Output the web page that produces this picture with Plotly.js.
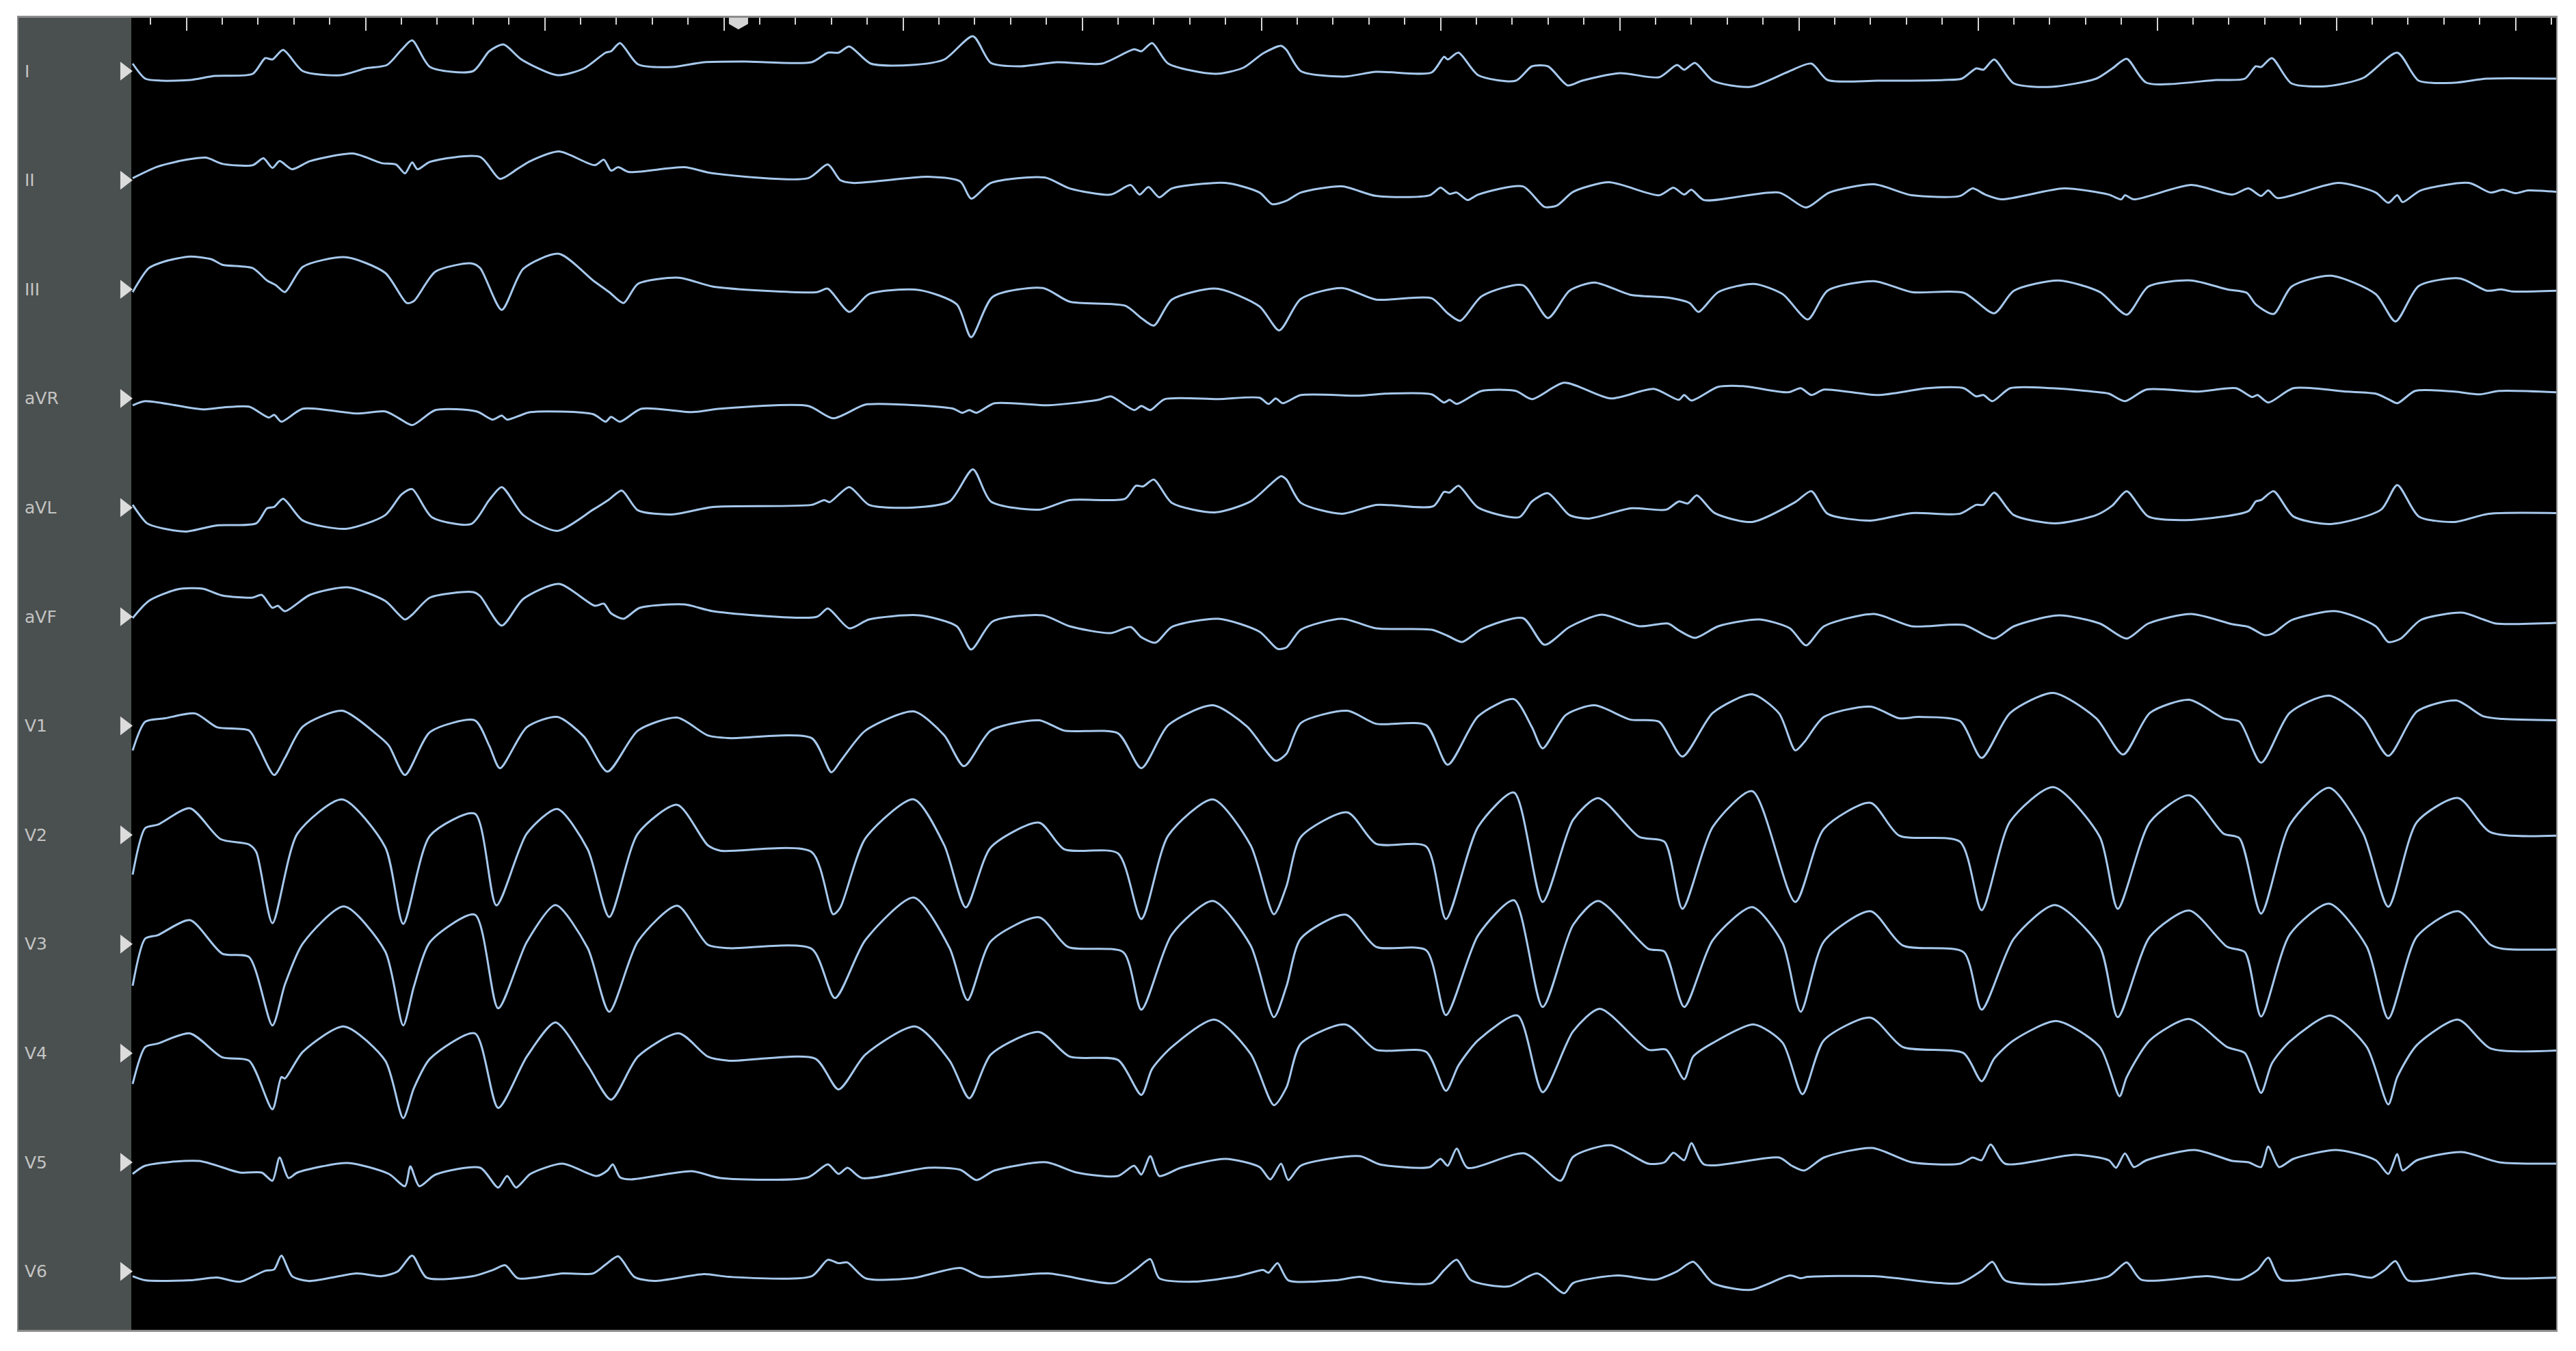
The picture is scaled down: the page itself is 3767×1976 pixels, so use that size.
<!DOCTYPE html>
<html>
<head>
<meta charset="utf-8">
<script src="https://cdn.plot.ly/plotly-3.0.1.min.js"></script>
<style>
  html, body { margin: 0; padding: 0; background: #ffffff; }
  #ecg { width: 3767px; height: 1976px; }
</style>
</head>
<body>
<div id="ecg"></div>
<script>
// 12-lead recording, [time (s), amplitude (mV)]
var leadNames = ['I', 'II', 'III', 'aVR', 'aVL', 'aVF', 'V1', 'V2', 'V3', 'V4', 'V5', 'V6'];

var leadI = [[0.70,0.11],[0.77,-0.11],[0.86,-0.14],[1.02,-0.13],[1.16,-0.07],[1.37,-0.04],[1.44,0.19],[1.48,0.17],[1.54,0.31],[1.65,0.00],[1.86,-0.06],[2.00,0.04],[2.12,0.09],[2.20,0.31],[2.26,0.45],[2.36,0.06],[2.60,0.00],[2.69,0.29],[2.77,0.39],[2.87,0.17],[3.07,-0.06],[3.22,0.04],[3.34,0.27],[3.37,0.29],[3.42,0.41],[3.52,0.10],[3.71,0.06],[3.89,0.13],[4.12,0.14],[4.49,0.13],[4.58,0.27],[4.64,0.27],[4.70,0.36],[4.82,0.11],[5.05,0.09],[5.23,0.17],[5.39,0.51],[5.49,0.12],[5.65,0.07],[5.86,0.13],[6.11,0.11],[6.29,0.32],[6.33,0.29],[6.39,0.41],[6.48,0.11],[6.74,-0.04],[6.90,0.05],[7.01,0.26],[7.11,0.37],[7.14,0.31],[7.22,0.00],[7.46,-0.08],[7.64,-0.01],[7.95,-0.02],[8.02,0.21],[8.04,0.17],[8.10,0.27],[8.21,-0.06],[8.42,-0.14],[8.51,0.07],[8.60,0.07],[8.71,-0.21],[8.79,-0.14],[9.00,-0.03],[9.22,-0.09],[9.32,0.09],[9.36,0.02],[9.42,0.12],[9.52,-0.14],[9.73,-0.23],[9.94,-0.01],[10.07,0.11],[10.16,-0.13],[10.44,-0.14],[10.81,-0.13],[10.91,-0.11],[10.99,0.04],[11.03,0.02],[11.09,0.17],[11.20,-0.18],[11.41,-0.23],[11.66,-0.11],[11.75,0.04],[11.83,0.18],[11.94,-0.17],[12.33,-0.13],[12.49,-0.11],[12.55,0.07],[12.58,0.06],[12.64,0.19],[12.75,-0.18],[12.95,-0.22],[13.15,-0.10],[13.34,0.27],[13.46,-0.14],[13.66,-0.17],[13.84,-0.11],[14.23,-0.11]];

var leadII = [[0.70,0.03],[0.84,0.20],[1.00,0.30],[1.11,0.33],[1.20,0.24],[1.37,0.22],[1.43,0.32],[1.48,0.18],[1.52,0.28],[1.59,0.16],[1.69,0.28],[1.93,0.39],[2.09,0.25],[2.17,0.23],[2.22,0.10],[2.26,0.26],[2.29,0.16],[2.36,0.27],[2.64,0.34],[2.75,0.02],[2.85,0.17],[2.92,0.28],[3.08,0.42],[3.28,0.22],[3.33,0.30],[3.37,0.14],[3.41,0.19],[3.47,0.12],[3.78,0.19],[3.94,0.10],[4.47,0.03],[4.58,0.23],[4.65,0.00],[4.72,-0.04],[5.14,0.05],[5.32,-0.02],[5.38,-0.27],[5.49,-0.04],[5.79,0.04],[5.93,-0.12],[6.16,-0.21],[6.27,-0.07],[6.32,-0.21],[6.37,-0.10],[6.43,-0.25],[6.50,-0.12],[6.80,-0.04],[6.99,-0.18],[7.06,-0.35],[7.14,-0.30],[7.22,-0.18],[7.45,-0.09],[7.64,-0.23],[7.94,-0.22],[8.00,-0.11],[8.05,-0.20],[8.09,-0.18],[8.15,-0.29],[8.21,-0.21],[8.46,-0.09],[8.58,-0.39],[8.65,-0.37],[8.74,-0.17],[8.94,-0.03],[9.22,-0.22],[9.30,-0.11],[9.36,-0.21],[9.40,-0.14],[9.47,-0.29],[9.89,-0.18],[10.04,-0.40],[10.17,-0.18],[10.42,-0.06],[10.63,-0.22],[10.90,-0.23],[10.97,-0.12],[11.04,-0.21],[11.13,-0.28],[11.48,-0.12],[11.73,-0.21],[11.80,-0.28],[11.82,-0.22],[11.87,-0.28],[12.19,-0.07],[12.42,-0.21],[12.51,-0.12],[12.58,-0.23],[12.62,-0.15],[12.67,-0.26],[13.01,-0.04],[13.22,-0.18],[13.29,-0.33],[13.34,-0.22],[13.37,-0.32],[13.47,-0.15],[13.74,-0.04],[13.86,-0.18],[13.93,-0.14],[14.00,-0.19],[14.07,-0.15],[14.23,-0.17]];

var leadIII = [[0.70,-0.04],[0.79,0.31],[0.88,0.41],[1.02,0.48],[1.14,0.44],[1.20,0.36],[1.37,0.31],[1.45,0.13],[1.50,0.06],[1.55,-0.04],[1.65,0.33],[1.89,0.47],[2.11,0.24],[2.23,-0.20],[2.27,-0.17],[2.39,0.26],[2.59,0.38],[2.64,0.31],[2.76,-0.30],[2.88,0.30],[3.08,0.52],[3.27,0.13],[3.36,-0.04],[3.44,-0.20],[3.52,0.08],[3.75,0.17],[3.94,0.04],[4.52,-0.04],[4.58,0.01],[4.70,-0.33],[4.81,-0.07],[5.09,-0.01],[5.30,-0.22],[5.38,-0.70],[5.50,-0.11],[5.78,0.02],[5.93,-0.18],[6.24,-0.24],[6.33,-0.42],[6.40,-0.53],[6.50,-0.15],[6.75,0.01],[6.99,-0.25],[7.10,-0.60],[7.22,-0.14],[7.45,0.02],[7.64,-0.15],[7.95,-0.13],[8.04,-0.35],[8.11,-0.46],[8.23,-0.10],[8.46,0.06],[8.60,-0.42],[8.72,-0.02],[8.86,0.10],[9.06,-0.08],[9.27,-0.12],[9.39,-0.20],[9.44,-0.33],[9.55,-0.04],[9.75,0.08],[9.91,-0.07],[10.05,-0.44],[10.16,-0.02],[10.42,0.12],[10.63,-0.04],[10.92,-0.05],[11.09,-0.35],[11.20,-0.02],[11.45,0.13],[11.68,-0.04],[11.83,-0.37],[11.95,0.04],[12.19,0.13],[12.39,0.00],[12.50,-0.05],[12.55,-0.22],[12.65,-0.36],[12.75,0.04],[12.97,0.20],[13.22,-0.07],[13.33,-0.47],[13.46,0.05],[13.69,0.16],[13.84,-0.02],[13.92,0.00],[13.98,-0.03],[14.23,-0.02]];

var leadAVR = [[0.70,-0.10],[0.77,-0.04],[1.09,-0.16],[1.21,-0.13],[1.35,-0.12],[1.46,-0.28],[1.49,-0.24],[1.53,-0.34],[1.65,-0.15],[1.95,-0.22],[2.11,-0.19],[2.18,-0.28],[2.26,-0.39],[2.39,-0.17],[2.62,-0.19],[2.71,-0.31],[2.76,-0.25],[2.79,-0.31],[2.92,-0.20],[3.27,-0.23],[3.34,-0.34],[3.37,-0.27],[3.42,-0.34],[3.54,-0.15],[3.82,-0.20],[3.98,-0.15],[4.47,-0.11],[4.61,-0.29],[4.79,-0.09],[5.00,-0.09],[5.28,-0.15],[5.33,-0.21],[5.37,-0.17],[5.41,-0.21],[5.51,-0.07],[5.81,-0.10],[6.09,-0.02],[6.16,0.03],[6.29,-0.17],[6.33,-0.11],[6.38,-0.17],[6.46,-0.01],[6.76,-0.01],[6.99,0.01],[7.04,-0.08],[7.08,0.00],[7.12,-0.07],[7.22,0.05],[7.55,0.04],[7.69,0.07],[7.95,0.06],[8.02,-0.06],[8.05,-0.02],[8.09,-0.08],[8.23,0.11],[8.42,0.11],[8.51,-0.01],[8.69,0.23],[8.95,0.00],[9.19,0.14],[9.33,-0.02],[9.36,0.05],[9.40,-0.03],[9.55,0.17],[9.69,0.18],[9.94,0.09],[10.01,0.15],[10.07,0.05],[10.14,0.13],[10.44,0.05],[10.72,0.15],[10.92,0.15],[10.99,0.03],[11.03,0.05],[11.08,-0.04],[11.18,0.15],[11.41,0.15],[11.64,0.10],[11.73,0.07],[11.82,-0.04],[11.94,0.13],[12.23,0.10],[12.44,0.15],[12.53,0.02],[12.56,0.05],[12.62,-0.06],[12.76,0.15],[13.06,0.10],[13.22,0.07],[13.29,-0.01],[13.34,-0.07],[13.44,0.11],[13.66,0.10],[13.80,0.06],[13.91,0.11],[14.23,0.09]];

var leadAVL = [[0.70,0.04],[0.78,-0.23],[0.86,-0.30],[1.00,-0.35],[1.17,-0.26],[1.39,-0.23],[1.45,-0.01],[1.49,0.01],[1.54,0.13],[1.65,-0.19],[1.89,-0.31],[2.11,-0.11],[2.20,0.19],[2.26,0.27],[2.37,-0.14],[2.59,-0.24],[2.69,0.11],[2.76,0.30],[2.88,-0.11],[3.07,-0.34],[3.27,-0.03],[3.36,0.12],[3.43,0.25],[3.52,-0.04],[3.71,-0.10],[3.94,0.01],[4.49,0.04],[4.56,0.11],[4.59,0.08],[4.70,0.30],[4.81,0.04],[5.05,0.00],[5.26,0.09],[5.39,0.56],[5.49,0.09],[5.76,-0.03],[5.93,0.11],[6.24,0.13],[6.30,0.32],[6.34,0.31],[6.40,0.41],[6.50,0.07],[6.74,-0.07],[6.94,0.09],[7.11,0.46],[7.14,0.41],[7.22,0.07],[7.45,-0.09],[7.64,0.04],[7.96,0.02],[8.02,0.23],[8.05,0.22],[8.10,0.32],[8.21,0.00],[8.44,-0.14],[8.51,0.09],[8.60,0.21],[8.72,-0.11],[8.83,-0.16],[9.06,-0.01],[9.26,-0.03],[9.33,0.09],[9.38,0.06],[9.43,0.18],[9.53,-0.08],[9.74,-0.21],[9.98,0.08],[10.07,0.24],[10.16,-0.09],[10.40,-0.19],[10.63,-0.08],[10.90,-0.09],[10.99,0.04],[11.03,0.04],[11.09,0.22],[11.20,-0.11],[11.43,-0.23],[11.66,-0.11],[11.75,0.03],[11.83,0.24],[11.95,-0.13],[12.19,-0.18],[12.51,-0.05],[12.55,0.09],[12.58,0.11],[12.65,0.24],[12.76,-0.13],[12.97,-0.24],[13.25,-0.03],[13.34,0.33],[13.46,-0.13],[13.66,-0.21],[13.85,-0.09],[14.23,-0.08]];

var leadAVF = [[0.70,-0.02],[0.79,0.23],[0.95,0.40],[1.09,0.41],[1.20,0.31],[1.37,0.28],[1.42,0.32],[1.48,0.13],[1.51,0.16],[1.55,0.08],[1.69,0.32],[1.90,0.43],[2.11,0.23],[2.22,-0.04],[2.26,0.03],[2.36,0.28],[2.60,0.36],[2.64,0.30],[2.76,-0.13],[2.88,0.26],[3.08,0.48],[3.28,0.16],[3.33,0.19],[3.37,0.05],[3.44,-0.03],[3.53,0.13],[3.78,0.18],[3.94,0.08],[4.52,0.00],[4.58,0.12],[4.70,-0.17],[4.81,-0.04],[5.09,0.02],[5.30,-0.14],[5.38,-0.48],[5.50,-0.07],[5.78,0.02],[5.93,-0.14],[6.16,-0.24],[6.27,-0.15],[6.33,-0.30],[6.41,-0.38],[6.50,-0.15],[6.76,-0.03],[6.99,-0.22],[7.09,-0.47],[7.14,-0.45],[7.22,-0.19],[7.45,-0.03],[7.64,-0.17],[7.95,-0.19],[8.04,-0.28],[8.12,-0.37],[8.23,-0.18],[8.46,-0.02],[8.58,-0.41],[8.72,-0.15],[8.90,0.03],[9.11,-0.14],[9.27,-0.10],[9.33,-0.20],[9.42,-0.31],[9.55,-0.14],[9.78,-0.04],[9.95,-0.17],[10.04,-0.42],[10.14,-0.14],[10.42,0.04],[10.63,-0.14],[10.92,-0.12],[11.09,-0.32],[11.20,-0.14],[11.45,0.02],[11.68,-0.10],[11.83,-0.32],[11.95,-0.10],[12.19,0.04],[12.42,-0.11],[12.51,-0.15],[12.60,-0.27],[12.65,-0.24],[12.75,-0.05],[13.00,0.08],[13.22,-0.14],[13.29,-0.37],[13.36,-0.32],[13.47,-0.05],[13.70,0.06],[13.82,-0.04],[13.89,-0.10],[14.23,-0.09]];

var leadV1 = [[0.70,-0.36],[0.77,0.06],[0.88,0.11],[1.05,0.18],[1.17,-0.02],[1.35,-0.07],[1.40,-0.29],[1.49,-0.72],[1.55,-0.47],[1.65,-0.01],[1.87,0.22],[2.06,-0.12],[2.13,-0.29],[2.22,-0.72],[2.36,-0.09],[2.61,0.08],[2.69,-0.29],[2.75,-0.62],[2.90,-0.02],[3.07,0.13],[3.22,-0.16],[3.35,-0.67],[3.52,-0.07],[3.74,0.12],[3.91,-0.14],[4.03,-0.18],[4.49,-0.18],[4.60,-0.68],[4.65,-0.52],[4.79,-0.07],[5.06,0.21],[5.23,-0.14],[5.34,-0.59],[5.49,-0.07],[5.76,0.08],[5.90,-0.07],[6.20,-0.11],[6.33,-0.62],[6.48,0.01],[6.73,0.30],[6.92,-0.01],[7.08,-0.51],[7.14,-0.41],[7.22,0.04],[7.48,0.22],[7.64,0.03],[7.92,0.01],[8.04,-0.57],[8.21,0.14],[8.41,0.39],[8.51,-0.02],[8.57,-0.33],[8.70,0.16],[8.86,0.30],[9.06,0.09],[9.22,0.06],[9.35,-0.45],[9.52,0.19],[9.74,0.46],[9.89,0.18],[9.98,-0.36],[10.03,-0.24],[10.14,0.13],[10.40,0.28],[10.56,0.11],[10.67,0.13],[10.90,0.07],[11.02,-0.47],[11.18,0.19],[11.42,0.48],[11.66,0.11],[11.81,-0.42],[11.96,0.19],[12.18,0.38],[12.37,0.11],[12.46,0.06],[12.58,-0.54],[12.74,0.19],[12.96,0.44],[13.15,0.11],[13.29,-0.44],[13.45,0.21],[13.67,0.37],[13.82,0.14],[13.93,0.10],[14.23,0.08]];

var leadV2 = [[0.70,-0.58],[0.77,0.10],[0.84,0.15],[1.02,0.39],[1.19,-0.06],[1.35,-0.14],[1.39,-0.25],[1.48,-1.29],[1.62,0.02],[1.87,0.52],[2.11,-0.18],[2.21,-1.30],[2.36,-0.01],[2.61,0.31],[2.73,-1.03],[2.90,0.02],[3.07,0.38],[3.24,-0.21],[3.36,-1.20],[3.52,0.02],[3.74,0.44],[3.91,-0.15],[3.98,-0.23],[4.49,-0.25],[4.61,-1.16],[4.65,-1.06],[4.79,-0.05],[5.06,0.52],[5.23,-0.15],[5.35,-1.06],[5.49,-0.18],[5.76,0.18],[5.90,-0.21],[6.20,-0.27],[6.33,-1.23],[6.48,-0.01],[6.73,0.52],[6.94,-0.15],[7.07,-1.16],[7.14,-0.75],[7.22,-0.03],[7.48,0.33],[7.64,-0.13],[7.92,-0.17],[8.03,-1.23],[8.21,0.12],[8.41,0.62],[8.57,-0.98],[8.74,0.22],[8.88,0.54],[9.11,-0.03],[9.25,-0.10],[9.35,-1.08],[9.52,0.12],[9.74,0.64],[9.98,-0.98],[10.14,0.09],[10.40,0.47],[10.56,-0.01],[10.90,-0.10],[11.02,-1.10],[11.18,0.20],[11.42,0.70],[11.68,-0.03],[11.78,-1.08],[11.96,0.19],[12.18,0.58],[12.37,0.02],[12.46,-0.05],[12.58,-1.15],[12.74,0.15],[12.96,0.69],[13.15,0.02],[13.29,-1.05],[13.45,0.19],[13.68,0.54],[13.86,0.04],[14.23,-0.01]];

var leadV3 = [[0.70,-0.61],[0.77,0.08],[0.84,0.13],[1.02,0.35],[1.20,-0.14],[1.35,-0.19],[1.48,-1.19],[1.55,-0.59],[1.65,0.01],[1.88,0.55],[2.11,-0.11],[2.21,-1.19],[2.27,-0.62],[2.36,0.03],[2.61,0.43],[2.74,-0.94],[2.90,0.03],[3.06,0.57],[3.24,-0.06],[3.36,-0.99],[3.52,0.04],[3.74,0.56],[3.91,-0.01],[4.03,-0.06],[4.49,-0.07],[4.62,-0.79],[4.79,0.06],[5.06,0.68],[5.26,-0.06],[5.36,-0.82],[5.49,0.04],[5.76,0.39],[5.92,-0.04],[6.23,-0.12],[6.33,-0.96],[6.50,0.14],[6.73,0.63],[6.94,-0.02],[7.07,-1.07],[7.14,-0.62],[7.22,0.08],[7.47,0.43],[7.64,-0.04],[7.92,-0.09],[8.03,-1.04],[8.21,0.13],[8.41,0.64],[8.57,-0.92],[8.74,0.28],[8.88,0.63],[9.16,-0.07],[9.25,-0.11],[9.36,-0.92],[9.52,0.06],[9.74,0.54],[9.91,0.01],[10.01,-0.99],[10.14,0.04],[10.40,0.48],[10.58,-0.02],[10.92,-0.12],[11.02,-0.96],[11.20,0.08],[11.43,0.57],[11.68,-0.04],[11.78,-1.07],[11.96,0.11],[12.18,0.49],[12.39,-0.04],[12.49,-0.12],[12.58,-1.06],[12.74,0.14],[12.96,0.59],[13.17,-0.04],[13.29,-1.09],[13.45,0.11],[13.68,0.48],[13.86,-0.01],[13.93,-0.07],[14.23,-0.08]];

var leadV4 = [[0.70,-0.45],[0.77,0.09],[0.84,0.14],[1.02,0.29],[1.20,-0.06],[1.35,-0.11],[1.48,-0.82],[1.53,-0.35],[1.55,-0.37],[1.65,0.02],[1.88,0.39],[2.11,-0.11],[2.21,-0.95],[2.27,-0.51],[2.36,-0.08],[2.61,0.29],[2.74,-0.80],[2.90,-0.05],[3.06,0.45],[3.24,-0.18],[3.37,-0.68],[3.52,-0.05],[3.75,0.29],[3.91,-0.05],[4.03,-0.11],[4.51,-0.08],[4.64,-0.53],[4.79,-0.02],[5.07,0.39],[5.26,-0.11],[5.37,-0.66],[5.49,-0.02],[5.76,0.31],[5.93,-0.05],[6.20,-0.10],[6.33,-0.61],[6.39,-0.23],[6.50,0.09],[6.74,0.49],[6.94,-0.01],[7.07,-0.76],[7.14,-0.50],[7.22,0.14],[7.47,0.42],[7.64,0.05],[7.92,0.02],[8.03,-0.55],[8.10,-0.18],[8.21,0.19],[8.43,0.55],[8.57,-0.57],[8.74,0.32],[8.89,0.65],[9.16,0.05],[9.26,0.05],[9.36,-0.38],[9.41,-0.05],[9.52,0.15],[9.75,0.42],[9.91,0.15],[10.02,-0.60],[10.14,0.19],[10.40,0.52],[10.58,0.09],[10.92,0.00],[11.02,-0.41],[11.09,-0.08],[11.20,0.19],[11.44,0.47],[11.68,0.09],[11.79,-0.63],[11.83,-0.35],[11.96,0.19],[12.18,0.50],[12.39,0.09],[12.49,0.00],[12.58,-0.58],[12.64,-0.15],[12.74,0.17],[12.97,0.55],[13.17,0.09],[13.29,-0.75],[13.34,-0.35],[13.45,0.12],[13.68,0.49],[13.86,0.07],[14.23,0.04]];

var leadV5 = [[0.70,-0.17],[0.77,-0.05],[1.07,0.02],[1.30,-0.15],[1.42,-0.15],[1.48,-0.27],[1.52,0.07],[1.57,-0.23],[1.62,-0.15],[1.90,-0.01],[2.13,-0.17],[2.22,-0.35],[2.25,-0.06],[2.30,-0.35],[2.39,-0.18],[2.64,-0.08],[2.74,-0.37],[2.79,-0.20],[2.84,-0.37],[2.92,-0.17],[3.10,-0.02],[3.29,-0.20],[3.35,-0.12],[3.38,-0.03],[3.42,-0.22],[3.48,-0.25],[3.82,-0.13],[3.98,-0.23],[4.47,-0.22],[4.58,-0.03],[4.64,-0.17],[4.69,-0.08],[4.77,-0.23],[5.14,-0.08],[5.32,-0.11],[5.41,-0.26],[5.51,-0.12],[5.80,0.00],[5.97,-0.15],[6.20,-0.20],[6.29,-0.05],[6.33,-0.18],[6.38,0.09],[6.43,-0.20],[6.55,-0.08],[6.80,0.05],[6.99,-0.07],[7.05,-0.25],[7.11,-0.02],[7.15,-0.26],[7.22,-0.05],[7.55,0.09],[7.66,-0.03],[7.94,-0.07],[8.00,0.05],[8.04,-0.05],[8.09,0.20],[8.15,-0.08],[8.47,0.13],[8.67,-0.27],[8.74,0.08],[8.95,0.25],[9.16,-0.02],[9.25,0.00],[9.30,0.14],[9.36,0.03],[9.40,0.28],[9.47,-0.03],[9.89,0.07],[9.96,-0.05],[10.03,-0.12],[10.14,0.07],[10.41,0.21],[10.63,0.00],[10.90,-0.02],[10.97,0.07],[11.02,0.03],[11.07,0.26],[11.15,-0.02],[11.54,0.11],[11.73,0.03],[11.77,-0.08],[11.82,0.13],[11.87,-0.07],[11.94,0.03],[12.21,0.18],[12.42,0.02],[12.51,0.00],[12.58,-0.07],[12.62,0.23],[12.68,-0.07],[12.76,0.05],[13.00,0.18],[13.22,0.03],[13.29,-0.17],[13.34,0.12],[13.37,-0.12],[13.45,0.03],[13.70,0.15],[13.91,0.00],[14.23,-0.02]];

var leadV6 = [[0.70,-0.07],[0.77,-0.13],[1.02,-0.13],[1.17,-0.09],[1.30,-0.15],[1.44,0.01],[1.49,0.03],[1.53,0.23],[1.59,-0.07],[1.68,-0.14],[1.95,-0.03],[2.09,-0.07],[2.18,0.00],[2.26,0.23],[2.34,-0.09],[2.60,-0.07],[2.71,0.02],[2.78,0.09],[2.85,-0.10],[3.10,-0.03],[3.27,-0.03],[3.34,0.10],[3.41,0.22],[3.50,-0.08],[3.61,-0.14],[3.89,-0.04],[4.03,-0.08],[4.49,-0.07],[4.58,0.17],[4.64,0.12],[4.69,0.13],[4.79,-0.10],[5.05,-0.10],[5.32,0.05],[5.44,-0.08],[5.81,-0.03],[6.18,-0.17],[6.30,0.03],[6.38,0.18],[6.43,-0.10],[6.62,-0.15],[6.87,-0.07],[7.01,0.02],[7.04,-0.02],[7.09,0.12],[7.15,-0.13],[7.41,-0.13],[7.55,-0.08],[7.69,-0.15],[7.95,-0.17],[8.02,0.02],[8.09,0.17],[8.17,-0.13],[8.38,-0.22],[8.54,-0.03],[8.69,-0.32],[8.74,-0.17],[8.99,-0.06],[9.20,-0.12],[9.32,0.00],[9.41,0.14],[9.52,-0.17],[9.73,-0.27],[9.95,-0.06],[10.01,-0.10],[10.05,-0.08],[10.42,-0.07],[10.79,-0.17],[10.90,-0.17],[11.02,0.01],[11.08,0.14],[11.15,-0.13],[11.41,-0.19],[11.73,-0.07],[11.83,0.13],[11.91,-0.12],[12.28,-0.07],[12.46,-0.12],[12.56,0.02],[12.62,0.20],[12.69,-0.12],[13.06,-0.04],[13.20,-0.09],[13.27,0.02],[13.33,0.15],[13.40,-0.13],[13.77,-0.03],[13.93,-0.10],[14.23,-0.09]];

var leads = [leadI, leadII, leadIII, leadAVR, leadAVL, leadAVF, leadV1, leadV2, leadV3, leadV4, leadV5, leadV6];

// layout constants
var rowGap = 1.596;          // mV between lead baselines
var xMin = 0.0626, xMax = 14.227;
var panelEnd = 0.6924;       // end of the grey label panel
var traceColor = 'rgb(166, 200, 236)';

var data = [];
leads.forEach(function (pts, k) {
  data.push({
    x: pts.map(function (p) { return p[0]; }),
    y: pts.map(function (p) { return p[1] - k * rowGap; }),
    mode: 'lines',
    line: {color: traceColor, width: 3, shape: 'spline', smoothing: 0.7},
    hoverinfo: 'skip',
    showlegend: false
  });
});

// calibration markers at the start of each row
data.push({
  x: leadNames.map(function () { return 0.654; }),
  y: leadNames.map(function (n, k) { return -k * rowGap; }),
  xaxis: 'x2',
  mode: 'markers',
  marker: {symbol: 'triangle-right', size: 24, color: '#dcdcdc'},
  hoverinfo: 'skip',
  showlegend: false
});

var smallTicks = [], longTicks = [];
for (var i = 4; i <= 71; i++) smallTicks.push(Math.round(i * 0.2 * 100) / 100);
for (var s = 1; s <= 14; s++) longTicks.push(s);

var annotations = leadNames.map(function (n, k) {
  return {
    x: 0.089, y: -k * rowGap, xref: 'x', yref: 'y',
    text: n, showarrow: false, xanchor: 'left', yanchor: 'middle',
    font: {family: 'DejaVu Sans, Liberation Sans, sans-serif', size: 25, color: '#c4c4c4'}
  };
});

var layout = {
  width: 3767,
  height: 1976,
  margin: {l: 27, r: 29, t: 26, b: 31},
  paper_bgcolor: '#ffffff',
  plot_bgcolor: '#000000',
  showlegend: false,
  xaxis: {
    range: [xMin, xMax], side: 'top', ticks: 'inside', tickvals: smallTicks,
    ticklen: 10, tickwidth: 2, tickcolor: '#d6d6d6', showticklabels: false,
    showgrid: false, zeroline: false, showline: true, linecolor: '#8c8c8c',
    linewidth: 3, mirror: true, fixedrange: true
  },
  xaxis2: {
    range: [xMin, xMax], overlaying: 'x', anchor: 'y', side: 'top', ticks: 'inside',
    tickvals: longTicks, ticklen: 19, tickwidth: 2, tickcolor: '#d6d6d6',
    showticklabels: false, showgrid: false, zeroline: false, showline: false
  },
  yaxis: {
    range: [-18.41, 0.78], ticks: '', showticklabels: false, showgrid: false,
    zeroline: false, showline: true, linecolor: '#8c8c8c', linewidth: 2,
    mirror: true, fixedrange: true
  },
  shapes: [
    {type: 'rect', xref: 'x', yref: 'paper', x0: xMin, x1: panelEnd, y0: 0, y1: 1,
     fillcolor: '#4a504f', line: {width: 0}, layer: 'below'},
    {type: 'path', xref: 'x', yref: 'paper',
     path: 'M 4.028 1 L 4.135 1 L 4.135 0.9953 L 4.081 0.9911 L 4.028 0.9953 Z',
     fillcolor: '#d4d4d4', line: {width: 0}}
  ],
  annotations: annotations
};

Plotly.newPlot('ecg', data, layout, {displayModeBar: false, staticPlot: true});
</script>
</body>
</html>
